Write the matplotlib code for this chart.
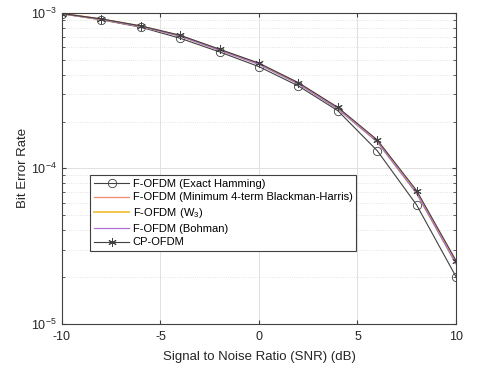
import matplotlib
matplotlib.use("Agg")
import matplotlib.pyplot as plt
import numpy as np

plt.rcParams["font.family"] = ["Liberation Sans", "DejaVu Sans"]
plt.rcParams["mathtext.fontset"] = "custom"
plt.rcParams["mathtext.rm"] = "Liberation Sans"
plt.rcParams["mathtext.it"] = "Liberation Sans"
plt.rcParams["axes.unicode_minus"] = False

# data
snr = [-10, -8, -6, -4, -2, 0, 2, 4, 6, 8, 10]
ber_hamming = [0.985e-3, 0.902e-3, 0.809e-3, 0.687e-3, 0.561e-3, 0.451e-3,
               0.339e-3, 0.235e-3, 1.30e-4, 5.82e-5, 2.01e-5]
ber_blackman = [0.99e-3, 0.912e-3, 0.822e-3, 0.713e-3, 0.580e-3, 0.471e-3,
                0.353e-3, 0.244e-3, 1.50e-4, 7.0e-5, 2.49e-5]
ber_w3 = [0.99e-3, 0.911e-3, 0.820e-3, 0.711e-3, 0.578e-3, 0.469e-3,
          0.351e-3, 0.243e-3, 1.49e-4, 6.95e-5, 2.46e-5]
ber_bohman = [0.988e-3, 0.909e-3, 0.818e-3, 0.708e-3, 0.575e-3, 0.466e-3,
              0.349e-3, 0.241e-3, 1.48e-4, 6.9e-5, 2.43e-5]
ber_cp = [0.99e-3, 0.915e-3, 0.825e-3, 0.718e-3, 0.584e-3, 0.475e-3,
          0.356e-3, 0.247e-3, 1.526e-4, 7.2e-5, 2.55e-5]

labels = ["F-OFDM (Exact Hamming)",
          "F-OFDM (Minimum 4-term Blackman-Harris)",
          "F-OFDM (W$_3$)",
          "F-OFDM (Bohman)",
          "CP-OFDM"]


def mk_plot():
    fig = plt.figure(figsize=(4.8, 3.68), dpi=100)
    ax = fig.add_axes([0.129, 0.12, 0.821, 0.845])

    ax.semilogy(snr, ber_hamming, color="#404040", lw=0.8, marker="o",
                markersize=6, markerfacecolor="none", markeredgewidth=0.6,
                label=labels[0])
    ax.semilogy(snr, ber_blackman, color="#f08a6a", lw=0.9, label=labels[1])
    ax.semilogy(snr, ber_w3, color="#f2c040", lw=1.3, label=labels[2])
    ax.semilogy(snr, ber_bohman, color="#b070d0", lw=0.9, label=labels[3])
    ax.semilogy(snr, ber_cp, color="#404040", lw=0.8, marker=(6, 2, 0),
                markersize=6, markeredgewidth=0.7, label=labels[4])

    ax.set_xlim(-10, 10)
    ax.set_ylim(1e-5, 1e-3)
    ax.set_xticks([-10, -5, 0, 5, 10])
    ax.grid(True, which="major", color="#dcdcdc", lw=0.6)
    ax.grid(True, which="minor", axis="y", color="#dcdcdc", lw=0.6, ls=":")
    ax.set_axisbelow(True)
    ax.tick_params(which="both", direction="in", top=True, right=True,
                   colors="#404040", labelsize=9, labelcolor="#262626")
    ax.tick_params(axis="x", pad=5)
    ax.tick_params(axis="y", pad=4)
    ax.tick_params(which="major", length=3)
    ax.tick_params(which="minor", length=2)
    for sp in ax.spines.values():
        sp.set_color("#404040")
        sp.set_linewidth(0.8)

    ax.set_xlabel("Signal to Noise Ratio (SNR) (dB)", fontsize=9.5,
                  color="#262626", labelpad=6)
    ax.set_ylabel("Bit Error Rate", fontsize=9.5, color="#262626", labelpad=1)

    leg = ax.legend(loc="upper left", bbox_to_anchor=(0.071, 0.479),
                    borderaxespad=0, fontsize=8, handlelength=3.2,
                    borderpad=0.35, labelspacing=0.33, handletextpad=0.3,
                    fancybox=False, framealpha=1, edgecolor="#404040")
    leg.get_frame().set_linewidth(0.8)

    fig.savefig("out.png", dpi=100)


if __name__ == "__main__":
    mk_plot()
